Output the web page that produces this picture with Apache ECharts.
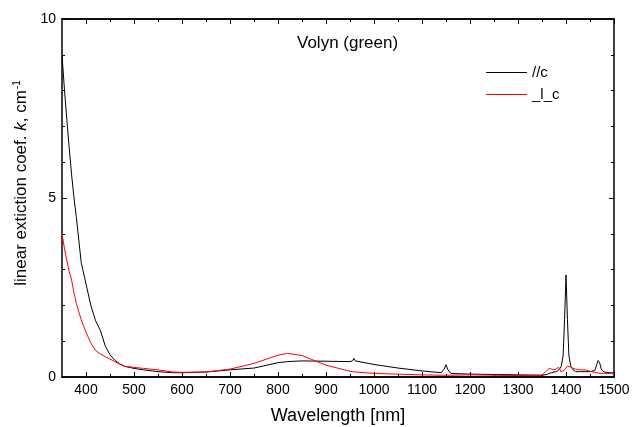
<!DOCTYPE html>
<html>
<head>
<meta charset="utf-8">
<script src="https://cdn.jsdelivr.net/npm/echarts@6/dist/echarts.min.js"></script>
<style>
  html, body { margin: 0; padding: 0; background: #fff; }
  #main { width: 632px; height: 427px; }
</style>
</head>
<body>
<div id="main"></div>
<script>
// wavelengths in nm, shared by both curves
const wavelengths = [350, 355, 360, 365, 370, 375, 380, 390, 400, 410, 420, 430, 440, 450, 460, 470, 480, 500, 520, 550, 580, 600, 650, 700, 750, 800, 820, 850, 900, 950, 955, 958, 961, 965, 1000, 1050, 1100, 1140, 1146, 1150, 1154, 1160, 1200, 1250, 1300, 1350, 1360, 1365, 1370, 1375, 1380, 1385, 1390, 1394, 1397, 1400, 1403, 1406, 1410, 1415, 1420, 1430, 1440, 1450, 1460, 1464, 1467, 1470, 1474, 1480, 1490, 1500]
// //c
const kPar = [9.0, 8.05, 7.2, 6.4, 5.65, 5.0, 4.45, 3.2, 2.6, 2.0, 1.57, 1.3, 0.87, 0.62, 0.47, 0.37, 0.3, 0.24, 0.2, 0.15, 0.12, 0.12, 0.14, 0.2, 0.25, 0.4, 0.43, 0.45, 0.44, 0.43, 0.45, 0.52, 0.45, 0.42, 0.35, 0.25, 0.17, 0.12, 0.22, 0.34, 0.2, 0.1, 0.08, 0.07, 0.06, 0.05, 0.07, 0.1, 0.12, 0.14, 0.15, 0.2, 0.29, 0.6, 1.6, 2.85, 1.6, 0.6, 0.3, 0.2, 0.15, 0.15, 0.15, 0.15, 0.18, 0.35, 0.46, 0.4, 0.2, 0.14, 0.12, 0.11]
// _l_c
const kPerp = [4.0, 3.6, 3.25, 2.95, 2.71, 2.35, 2.05, 1.6, 1.25, 0.95, 0.74, 0.64, 0.57, 0.5, 0.43, 0.36, 0.3, 0.27, 0.24, 0.2, 0.14, 0.13, 0.14, 0.22, 0.38, 0.61, 0.66, 0.6, 0.33, 0.16, 0.15, 0.15, 0.14, 0.14, 0.1, 0.08, 0.06, 0.05, 0.05, 0.05, 0.05, 0.05, 0.06, 0.05, 0.04, 0.05, 0.18, 0.24, 0.22, 0.2, 0.23, 0.27, 0.14, 0.12, 0.2, 0.25, 0.3, 0.31, 0.28, 0.24, 0.22, 0.2, 0.2, 0.16, 0.13, 0.12, 0.11, 0.1, 0.1, 0.1, 0.1, 0.1]
const xMajor = [400, 500, 600, 700, 800, 900, 1000, 1100, 1200, 1300, 1400, 1500]
const xMinor = [450, 550, 650, 750, 850, 950, 1050, 1150, 1250, 1350, 1450]

const font = 'Liberation Sans, Arial, sans-serif'
const axisLine = { show: true, lineStyle: { color: '#000', width: 1.5 } }
const plain = (v) => String(v)

function xAxisOf(pos, ticks, len, labels) {
  return {
    type: 'value', min: 350, max: 1500, position: pos,
    axisLine: axisLine,
    splitLine: { show: false },
    axisTick: { show: true, inside: true, length: len, customValues: ticks, lineStyle: { color: '#000' } },
    axisLabel: labels
      ? { show: true, customValues: xMajor, formatter: plain, color: '#000', fontSize: 14, fontFamily: font, margin: 6 }
      : { show: false }
  }
}

function yAxisOf(pos, labels) {
  return {
    type: 'value', min: 0, max: 10, interval: 5, position: pos,
    axisLine: axisLine,
    splitLine: { show: false },
    axisTick: { show: true, inside: true, length: 5, lineStyle: { color: '#000' } },
    minorTick: { show: true, splitNumber: 5, length: 3, lineStyle: { color: '#000' } },
    axisLabel: labels ? { show: true, formatter: plain, color: '#000', fontSize: 14, fontFamily: font, margin: 6 } : { show: false }
  }
}

const xAxes = [
  xAxisOf('bottom', xMajor, 5, true),
  xAxisOf('bottom', xMinor, 3, false),
  xAxisOf('top', xMajor, 5, false),
  xAxisOf('top', xMinor, 3, false)
]
xAxes[0].name = 'Wavelength [nm]'
xAxes[0].nameLocation = 'middle'
xAxes[0].nameGap = 30
xAxes[0].nameTextStyle = { color: '#000', fontSize: 18, fontFamily: font }

const yAxes = [yAxisOf('left', true), yAxisOf('right', false)]
yAxes[0].name = '{a|linear extiction coef. }{i|k}{a|, cm}{s|-1}'
yAxes[0].nameLocation = 'middle'
yAxes[0].nameGap = 31
yAxes[0].nameTextStyle = {
  color: '#000', fontFamily: font, padding: [0, 0, 0, 30],
  rich: {
    a: { fontSize: 17, fontFamily: font, color: '#000' },
    i: { fontSize: 17, fontFamily: font, fontStyle: 'italic', color: '#000' },
    s: { fontSize: 10, fontFamily: font, color: '#000', verticalAlign: 'top', padding: [0, 0, 8, 1] }
  }
}

const chart = echarts.init(document.getElementById('main'))
chart.setOption({
  animation: false,
  backgroundColor: '#fff',
  grid: { left: 62, right: 18, top: 19, bottom: 50, outerBoundsMode: 'none' },
  title: {
    text: 'Volyn (green)', left: 297, top: 35, padding: 0,
    textStyle: { fontSize: 17, fontWeight: 'normal', color: '#000', fontFamily: font }
  },
  legend: {
    orient: 'vertical', left: 486, top: 65, padding: 0,
    icon: 'rect', itemWidth: 41, itemHeight: 1, itemGap: 7,
    textStyle: { fontSize: 15, color: '#000', fontFamily: font },
    data: ['//c', '_l_c']
  },
  xAxis: xAxes,
  yAxis: yAxes,
  series: [
    {
      name: '//c', type: 'line', symbol: 'none',
      lineStyle: { color: '#000', width: 1 }, itemStyle: { color: '#000' },
      data: wavelengths.map((w, i) => [w, kPar[i]])
    },
    {
      name: '_l_c', type: 'line', symbol: 'none',
      lineStyle: { color: '#f00', width: 1 }, itemStyle: { color: '#f00' },
      data: wavelengths.map((w, i) => [w, kPerp[i]])
    }
  ]
})
</script>
</body>
</html>
